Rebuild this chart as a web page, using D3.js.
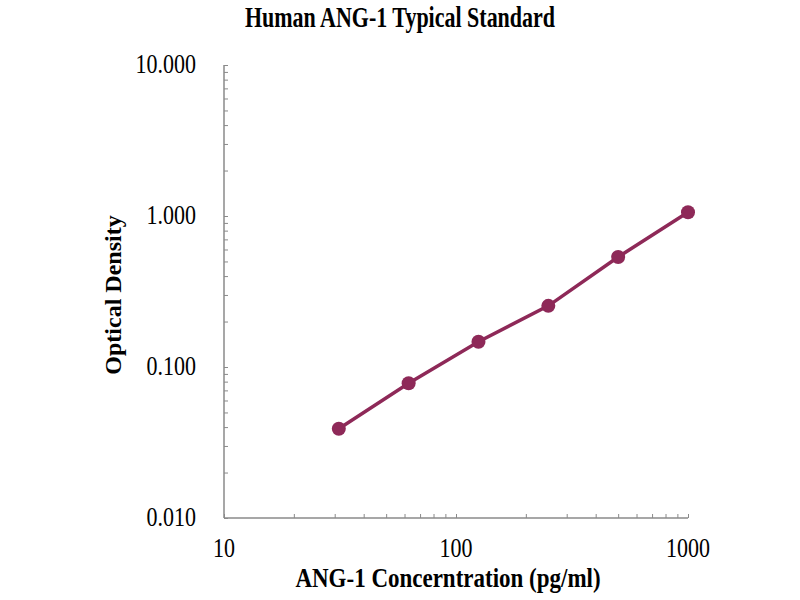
<!DOCTYPE html>
<html>
<head>
<meta charset="utf-8">
<script src="https://cdn.jsdelivr.net/npm/d3@7"></script>
<style>
  body { margin: 0; background: #fff; }
  text { font-family: "Liberation Serif", "Times New Roman", serif; fill: #000; }
</style>
</head>
<body>
<svg id="chart" width="800" height="600"></svg>
<script>
// standard curve points
var concentrations = [31.25, 62.5, 125, 250, 500, 1000];
var densities = [0.039, 0.078, 0.147, 0.254, 0.535, 1.06];

var xTickValues = [10, 100, 1000];
var yTickValues = [0.01, 0.1, 1, 10];

var svg = d3.select("#chart");
var margin = { top: 65, right: 112, bottom: 82, left: 224 };
var width = 800 - margin.left - margin.right;
var height = 600 - margin.top - margin.bottom;

// the source picture is a bit stretched vertically, so text gets taller glyphs
var stretch = 1.22;

var xScale = d3.scaleLog().domain([10, 1000]).range([0, width]);
var yScale = d3.scaleLog().domain([0.01, 10]).range([height, 0]);

var g = svg.append("g")
    .attr("transform", "translate(" + margin.left + "," + margin.top + ")");

var axisColor = "#8a8a8a";

// minor ticks, drawn inward
var xAxis = g.append("g")
    .attr("transform", "translate(0," + height + ")")
    .call(d3.axisTop(xScale).tickValues(xScale.ticks()).tickSize(4).tickFormat(""));
xAxis.select(".domain").remove();
xAxis.selectAll("line").attr("stroke", axisColor);

var yAxis = g.append("g")
    .call(d3.axisRight(yScale).tickValues(yScale.ticks()).tickSize(4).tickFormat(""));
yAxis.select(".domain").remove();
yAxis.selectAll("line").attr("stroke", axisColor);

// axis lines
g.append("line").attr("x1", 0).attr("x2", width).attr("y1", height).attr("y2", height)
    .attr("stroke", axisColor).attr("stroke-width", 1.5);
g.append("line").attr("x1", 0).attr("x2", 0).attr("y1", 0).attr("y2", height)
    .attr("stroke", axisColor).attr("stroke-width", 1.5);

// tick labels
g.selectAll(".xlab").data(xTickValues).enter().append("text")
    .attr("class", "xlab")
    .attr("transform", d => "translate(" + xScale(d) + "," + (height + 39) + ") scale(1," + stretch + ")")
    .attr("text-anchor", "middle")
    .style("font-size", "22px")
    .text(d => d);

g.selectAll(".ylab").data(yTickValues).enter().append("text")
    .attr("class", "ylab")
    .attr("transform", d => "translate(-28," + (yScale(d) + 8) + ") scale(1," + stretch + ")")
    .attr("text-anchor", "end")
    .style("font-size", "22px")
    .text(d => d.toFixed(3));

// line + markers
var pts = concentrations.map((c, i) => [c, densities[i]]);
var lineColor = "#8e2958";

g.append("path")
    .datum(pts)
    .attr("fill", "none")
    .attr("stroke", lineColor)
    .attr("stroke-width", 3.5)
    .attr("d", d3.line().x(d => xScale(d[0])).y(d => yScale(d[1])));

g.selectAll(".pt").data(pts).enter().append("circle")
    .attr("class", "pt")
    .attr("cx", d => xScale(d[0]))
    .attr("cy", d => yScale(d[1]))
    .attr("r", 7)
    .attr("fill", lineColor);

// titles
svg.append("text")
    .attr("transform", "translate(400,27) scale(1,1.3)")
    .attr("text-anchor", "middle")
    .style("font-size", "22px").style("font-weight", "bold")
    .text("Human ANG-1 Typical Standard");

svg.append("text")
    .attr("transform", "translate(" + (margin.left + width / 2 - 8) + ",587) scale(1," + stretch + ")")
    .attr("text-anchor", "middle")
    .style("font-size", "23px").style("font-weight", "bold")
    .text("ANG-1 Concerntration (pg/ml)");

svg.append("text")
    .attr("transform", "translate(121,295) rotate(-90)")
    .attr("text-anchor", "middle")
    .style("font-size", "24px").style("font-weight", "bold")
    .text("Optical Density");
</script>
</body>
</html>
